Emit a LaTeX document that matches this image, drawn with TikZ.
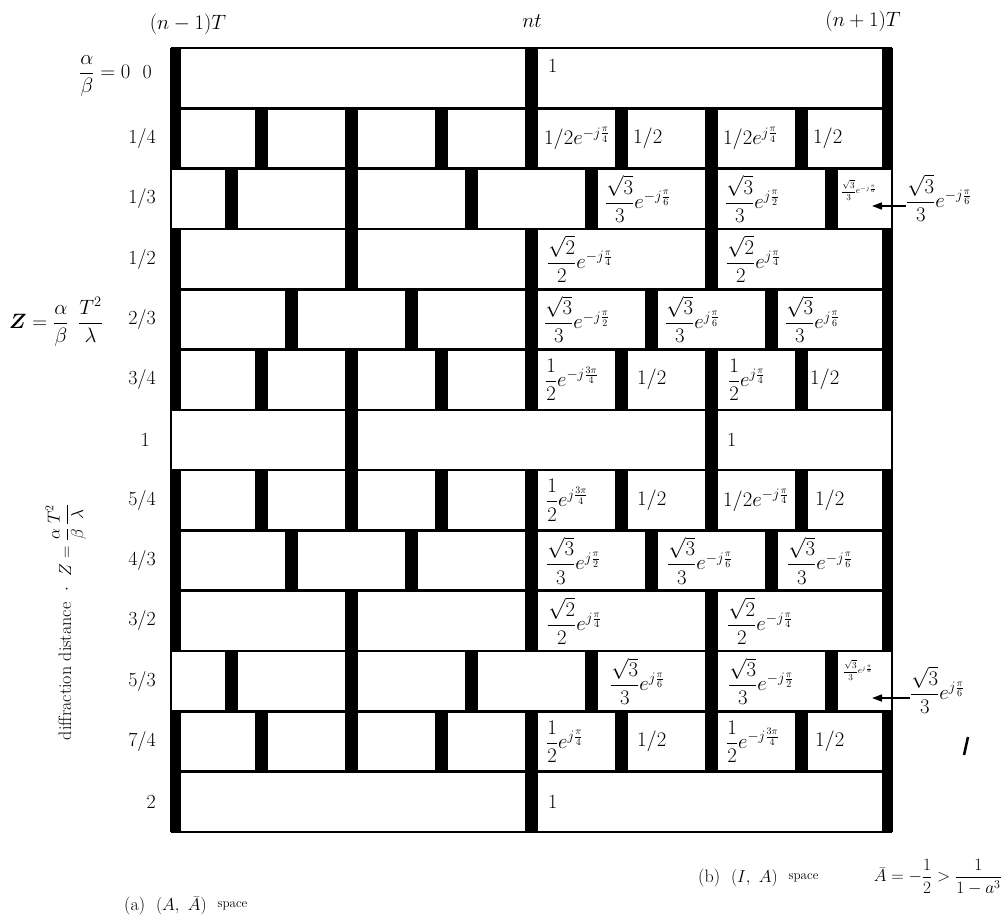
\documentclass[tikz,border=0pt]{standalone}
\usepackage{amsmath}
\usepackage{amssymb}
\usetikzlibrary{arrows.meta}
\begin{document}
\begin{tikzpicture}[x=1pt,y=-1pt,
  cell/.style={anchor=west,inner sep=0pt,font=\fontsize{20}{24}\selectfont},
  tinycell/.style={anchor=west,inner sep=0pt,font=\fontsize{9}{10}\selectfont},
  rowlab/.style={anchor=east,inner sep=0pt,font=\fontsize{20}{24}\selectfont},
  toplab/.style={inner sep=0pt,font=\fontsize{20}{24}\selectfont},
  caplab/.style={inner sep=0pt,font=\fontsize{18}{22}\selectfont},
  gridline/.style={line width=2.6pt},
  pointer/.style={line width=1.6pt,-{Triangle[length=10pt,width=7pt]}}
]
\useasboundingbox (0,0) rectangle (1004,922);
\fill[white] (0,0) rectangle (1004,922);

% ---- bars ----
\foreach \r/\pat in {0/{0,12,24},1/{0,3,6,9,12,15,18,21,24},2/{2,6,10,14,18,22},
  3/{0,6,12,18,24},4/{0,4,8,12,16,20,24},5/{0,3,6,9,12,15,18,21,24},6/{6,18},
  7/{0,3,6,9,12,15,18,21,24},8/{0,4,8,12,16,20,24},9/{0,6,12,18,24},
  10/{2,6,10,14,18,22},11/{0,3,6,9,12,15,18,21,24},12/{0,12,24}}{
  \pgfmathsetmacro\yt{48+\r*60.3077}
  \pgfmathsetmacro\yb{\yt+60.3077}
  \foreach \k in \pat {
    \pgfmathsetmacro\xc{171+\k*30.0417}
    \ifnum\k=0
      \fill (171,\yt) rectangle (181,\yb);
    \else\ifnum\k=24
      \fill (882,\yt) rectangle (892,\yb);
    \else
      \fill (\xc-6.5,\yt) rectangle (\xc+6.5,\yb);
    \fi\fi
  }
}
% ---- frame and row lines ----
\foreach \r in {0,...,13}{
  \draw[gridline] (171,48+\r*60.3077) -- (892,48+\r*60.3077);
}
\draw[line width=2pt] (171,48) -- (171,832);
\draw[line width=2pt] (892,48) -- (892,832);

% ---- top labels ----
\node[toplab] (tl) at (188,24) {$(n-1)T$};
\node[toplab] (tm) at (532,21) {$nt$};
\node[toplab] (tr) at (863,21) {$(n+1)T$};

% ---- row labels ----
\node[rowlab] (r0) at (152,76) {$\dfrac{\alpha}{\beta}=0$\ \ 0};
\node[rowlab] (r1) at (156,138.5) {1/4};
\node[rowlab] (r2) at (156,198.8) {1/3};
\node[rowlab] (r3) at (156,259.1) {1/2};
\node[rowlab] (r4) at (156,319.4) {2/3};
\node[rowlab] (r5) at (156,379.7) {3/4};
\node[rowlab] (r6) at (150,440) {1};
\node[rowlab] (r7) at (156,500.3) {5/4};
\node[rowlab] (r8) at (156,560.6) {4/3};
\node[rowlab] (r9) at (156,620.9) {3/2};
\node[rowlab] (r10) at (156,681.2) {5/3};
\node[rowlab] (r11) at (156,741.5) {7/4};
\node[rowlab] (r12) at (156,801.8) {2};

\node[toplab] (zl) at (56,322) {$\boldsymbol{Z}=\dfrac{\alpha}{\beta}\ \,\dfrac{T^2}{\lambda}$};
\node[caplab,rotate=90] (dd) at (66,622) {diffraction distance\ \ $\cdot$\ \ $Z=\dfrac{\alpha}{\beta}\,\dfrac{T^2}{\lambda}$};

% ---- cell texts ----
\node[cell] (c0) at (548,66) {1};

\node[cell] (c1a) at (544,138.5) {$1/2e^{-j\frac{\pi}{4}}$};
\node[cell] (c1b) at (633,138.5) {$1/2$};
\node[cell] (c1c) at (723,138.5) {$1/2e^{j\frac{\pi}{4}}$};
\node[cell] (c1d) at (813,138.5) {$1/2$};

\node[cell] (c2a) at (605,198.8) {$\dfrac{\sqrt{3}}{3}e^{-j\frac{\pi}{6}}$};
\node[cell] (c2b) at (725,198.8) {$\dfrac{\sqrt{3}}{3}e^{j\frac{\pi}{2}}$};
\node[tinycell] (c2c) at (841,190) {$\dfrac{\sqrt{3}}{3}e^{-j\frac{\pi}{6}}$};

\node[cell] (c3a) at (547,259.1) {$\dfrac{\sqrt{2}}{2}e^{-j\frac{\pi}{4}}$};
\node[cell] (c3b) at (726,259.1) {$\dfrac{\sqrt{2}}{2}e^{j\frac{\pi}{4}}$};

\node[cell] (c4a) at (544,319.4) {$\dfrac{\sqrt{3}}{3}e^{-j\frac{\pi}{2}}$};
\node[cell] (c4b) at (665,319.4) {$\dfrac{\sqrt{3}}{3}e^{j\frac{\pi}{6}}$};
\node[cell] (c4c) at (785,319.4) {$\dfrac{\sqrt{3}}{3}e^{j\frac{\pi}{6}}$};

\node[cell] (c5a) at (545,379.7) {$\dfrac{1}{2}e^{-j\frac{3\pi}{4}}$};
\node[cell] (c5b) at (637,379.7) {$1/2$};
\node[cell] (c5c) at (728,379.7) {$\dfrac{1}{2}e^{j\frac{\pi}{4}}$};
\node[cell] (c5d) at (810,379.7) {$1/2$};

\node[cell] (c6) at (727,440) {1};

\node[cell] (c7a) at (546,500.3) {$\dfrac{1}{2}e^{j\frac{3\pi}{4}}$};
\node[cell] (c7b) at (637,500.3) {$1/2$};
\node[cell] (c7c) at (723,500.3) {$1/2e^{-j\frac{\pi}{4}}$};
\node[cell] (c7d) at (815,500.3) {$1/2$};

\node[cell] (c8a) at (546,560.6) {$\dfrac{\sqrt{3}}{3}e^{j\frac{\pi}{2}}$};
\node[cell] (c8b) at (667,560.6) {$\dfrac{\sqrt{3}}{3}e^{-j\frac{\pi}{6}}$};
\node[cell] (c8c) at (787,560.6) {$\dfrac{\sqrt{3}}{3}e^{-j\frac{\pi}{6}}$};

\node[cell] (c9a) at (547,620.9) {$\dfrac{\sqrt{2}}{2}e^{j\frac{\pi}{4}}$};
\node[cell] (c9b) at (727,620.9) {$\dfrac{\sqrt{2}}{2}e^{-j\frac{\pi}{4}}$};

\node[cell] (c10a) at (610,681.2) {$\dfrac{\sqrt{3}}{3}e^{j\frac{\pi}{6}}$};
\node[cell] (c10b) at (728,681.2) {$\dfrac{\sqrt{3}}{3}e^{-j\frac{\pi}{2}}$};
\node[tinycell] (c10c) at (843,670) {$\dfrac{\sqrt{3}}{3}e^{j\frac{\pi}{6}}$};

\node[cell] (c11a) at (546,741.5) {$\dfrac{1}{2}e^{j\frac{\pi}{4}}$};
\node[cell] (c11b) at (637,741.5) {$1/2$};
\node[cell] (c11c) at (726,741.5) {$\dfrac{1}{2}e^{-j\frac{3\pi}{4}}$};
\node[cell] (c11d) at (815,741.5) {$1/2$};

\node[cell] (c12) at (548,801.8) {1};

% ---- outside labels with pointers ----
\node[cell] (o2) at (906,198) {$\dfrac{\sqrt{3}}{3}e^{-j\frac{\pi}{6}}$};
\coordinate (t2) at (872,206);
\draw[pointer] (o2.west |- t2) -- (t2);

\node[cell] (o10) at (910,690) {$\dfrac{\sqrt{3}}{3}e^{j\frac{\pi}{6}}$};
\coordinate (t10) at (872,698);
\draw[pointer] (o10.west |- t10) -- (t10);

% stray stroke
\draw[line width=2.5pt] (968,737) -- (964,755);

% ---- captions ----
\node[caplab,anchor=west] (capb) at (698,878) {(b)\ \ $(I,\ A)$\ \ \raisebox{3pt}{\fontsize{13}{15}\selectfont space}};
\node[caplab,anchor=east] (capf) at (1002,877) {$\bar{A}=-\dfrac{1}{2}>\dfrac{1}{1-a^3}$};
\node[caplab,anchor=west] (capa) at (124,906) {(a)\ \ $(A,\ \bar{A})$\ \ \raisebox{3pt}{\fontsize{13}{15}\selectfont space}};
\end{tikzpicture}
\end{document}
